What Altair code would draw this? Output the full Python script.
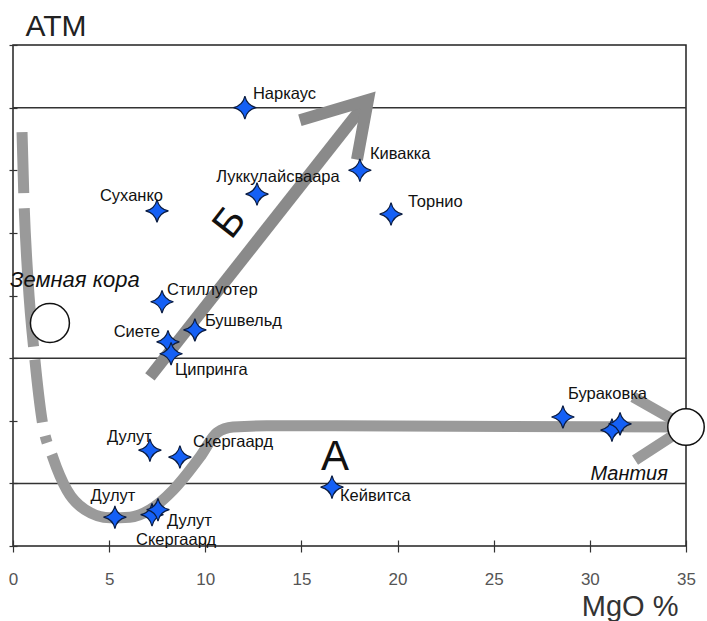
import altair as alt
import pandas as pd

# --- deposits: MgO content vs. position on the ATM scale ---
names = ["Наркаус", "Кивакка", "Луккулайсваара", "Торнио", "Суханко", "Стиллуотер",
         "Бушвельд", "Сиете", "Ципринга", "Бураковка", "", "",
         "Дулут", "Скергаард", "Кейвитса", "Дулут", "Скергаард", "Дулут"]
mgo = [12.06, 18.04, 12.69, 19.66, 7.49, 7.75,
       9.46, 8.06, 8.22, 28.6, 31.15, 31.57,
       7.12, 8.68, 16.59, 5.30, 7.23, 7.54]
atm = [7.0, 6.0, 5.62, 5.30, 5.35, 3.90,
       3.45, 3.26, 3.07, 2.06, 1.85, 1.95,
       1.53, 1.42, 0.94, 0.46, 0.50, 0.58]

# horizontal reference levels
levels = [1, 3, 7]

# trend A: crust -> low-MgO trough -> mantle plateau
trend_a_x = [0.47, 0.57, 0.78, 1.14, 1.51, 2.08, 2.81, 3.74, 5.04, 6.08,
             7.12, 8.32, 9.72, 10.61, 11.44, 13.2, 35.0]
trend_a_y = [6.61, 5.53, 4.25, 2.97, 2.01, 1.41, 0.89, 0.58, 0.45, 0.46,
             0.58, 0.89, 1.42, 1.81, 1.90, 1.92, 1.90]

# trend B arrow: shaft and head
shaft_x = [7.12, 18.46]
shaft_y = [2.70, 7.12]
head_x = [14.92, 18.46, 17.89]
head_y = [6.80, 7.12, 6.17]

# arrowhead converging on the mantle end-member
mantle_head_x = [32.25, 35.0, 32.35]
mantle_head_y = [2.38, 1.90, 1.37]

# end-member reservoirs
reservoir_x = [1.92, 35.0]
reservoir_y = [3.56, 1.90]
reservoir_size = [1520, 1330]

# annotation texts
note_text = ["Земная кора", "Мантия"]
note_x = [-0.16, 34.06]
note_y = [4.14, 1.05]

FONT = "Liberation Sans"

# label placement for each deposit: (dx, dy, align)
label_style = [
    (8, -14, "left"), (10, -16, "left"), (21, -17, "center"), (17, -12, "left"),
    (6, -15, "right"), (5, -12, "left"), (10, -9, "left"), (-8, -10, "right"),
    (4, 16, "left"), (5, -23, "left"), None, None,
    (2, -13, "right"), (13, -15, "left"), (8, 9, "left"), (-2, -21, "center"),
    (24, 25, "center"), (9, 11, "left"),
]

X = alt.X(
    "x:Q",
    scale=alt.Scale(domain=[0, 35], nice=False, zero=False),
    axis=alt.Axis(
        values=[0, 5, 10, 15, 20, 25, 30, 35], tickSize=12, offset=-6,
        domain=False, grid=False, tickColor="#333", tickWidth=1.2,
        labelFont=FONT, labelFontSize=17, labelColor="#555", labelPadding=19,
        labelFlush=False,
        title="MgO %", titleFont=FONT, titleFontSize=29, titleFontWeight="normal",
        titleColor="#333", titleAlign="right", titleBaseline="alphabetic",
        titleX=665, titleY=75,
    ),
)
Y = alt.Y(
    "y:Q",
    scale=alt.Scale(domain=[0, 8], nice=False, zero=False),
    axis=alt.Axis(
        values=[0, 1, 2, 3, 4, 5, 6, 7, 8], tickSize=8, offset=-4,
        domain=False, grid=False, labels=False, tickColor="#333", tickWidth=1.2,
        title="ATM", titleAngle=0, titleFont=FONT, titleFontSize=30,
        titleFontWeight="normal", titleColor="#222", titleAlign="left",
        titleBaseline="alphabetic", titleX=8, titleY=-10,
    ),
)

pts = pd.DataFrame({"name": names, "x": mgo, "y": atm})

rules = alt.Chart(pd.DataFrame({"y": levels})).mark_rule(
    color="#333", strokeWidth=1.5
).encode(y=Y)

trend_a = alt.Chart(pd.DataFrame({
    "x": trend_a_x, "y": trend_a_y, "o": range(len(trend_a_x))
})).mark_line(
    color="#9a9a9a", strokeWidth=11, interpolate="monotone", strokeCap="butt",
    strokeDash=[61, 15, 139, 13, 63, 14, 7, 13, 3000],
).encode(x=X, y=Y, order="o:Q")

shaft = alt.Chart(pd.DataFrame({"x": shaft_x, "y": shaft_y, "o": [0, 1]})).mark_line(
    color="#8a8a8a", strokeWidth=12, strokeCap="butt"
).encode(x=X, y=Y, order="o:Q")

head = alt.Chart(pd.DataFrame({"x": head_x, "y": head_y, "o": [0, 1, 2]})).mark_line(
    color="#8a8a8a", strokeWidth=12, strokeCap="butt", strokeJoin="miter"
).encode(x=X, y=Y, order="o:Q")

mantle_head = alt.Chart(pd.DataFrame({
    "x": mantle_head_x, "y": mantle_head_y, "o": [0, 1, 2]
})).mark_line(
    color="#9a9a9a", strokeWidth=11, strokeCap="butt", strokeJoin="miter"
).encode(x=X, y=Y, order="o:Q")

reservoirs = alt.Chart(pd.DataFrame({
    "x": reservoir_x, "y": reservoir_y, "s": reservoir_size
})).mark_point(
    shape="circle", filled=True, fill="white", stroke="#111", strokeWidth=1.5, opacity=1
).encode(x=X, y=Y, size=alt.Size("s:Q", scale=None, legend=None))

STAR = "M0,-1 Q0.18,-0.18 1,0 Q0.18,0.18 0,1 Q-0.18,0.18 -1,0 Q-0.18,-0.18 0,-1 Z"
stars = alt.Chart(pts).mark_point(
    shape=STAR, size=520, filled=True, fill="#1560f5", stroke="#0b1c40",
    strokeWidth=1.2, opacity=1
).encode(x=X, y=Y)

labels = []
for i, st in enumerate(label_style):
    if st is None:
        continue
    dx, dy, align = st
    labels.append(
        alt.Chart(pts.iloc[[i]]).mark_text(
            dx=dx, dy=dy, align=align, baseline="middle", font=FONT,
            fontSize=16.5, color="#111"
        ).encode(x=X, y=Y, text="name:N")
    )

note_left = alt.Chart(pd.DataFrame({"t": note_text[:1], "x": note_x[:1], "y": note_y[:1]})).mark_text(
    align="left", baseline="alphabetic", font=FONT, fontSize=22, fontStyle="italic", color="#111"
).encode(x=X, y=Y, text="t:N")
note_right = alt.Chart(pd.DataFrame({"t": note_text[1:], "x": note_x[1:], "y": note_y[1:]})).mark_text(
    align="right", baseline="alphabetic", font=FONT, fontSize=20, fontStyle="italic", color="#111"
).encode(x=X, y=Y, text="t:N")

letter_a = alt.Chart(pd.DataFrame({"t": ["A"], "x": [16.75], "y": [1.42]})).mark_text(
    align="center", baseline="middle", font=FONT, fontSize=42, color="#111"
).encode(x=X, y=Y, text="t:N")
letter_b = alt.Chart(pd.DataFrame({"t": ["Б"], "x": [11.28], "y": [5.16]})).mark_text(
    align="center", baseline="middle", font=FONT, fontSize=40, color="#111", angle=308
).encode(x=X, y=Y, text="t:N")

chart = alt.layer(
    rules, trend_a, mantle_head, shaft, head, reservoirs, stars,
    *labels, note_left, note_right, letter_a, letter_b,
).properties(
    width=673, height=501,
    padding={"left": 13, "top": 45, "right": 21, "bottom": 75},
    autosize=alt.AutoSizeParams(type="none"),
    background="white",
).configure_view(stroke="#222", strokeWidth=1.5)

chart.save("out.html", embed_options={"renderer": "svg", "actions": False})
